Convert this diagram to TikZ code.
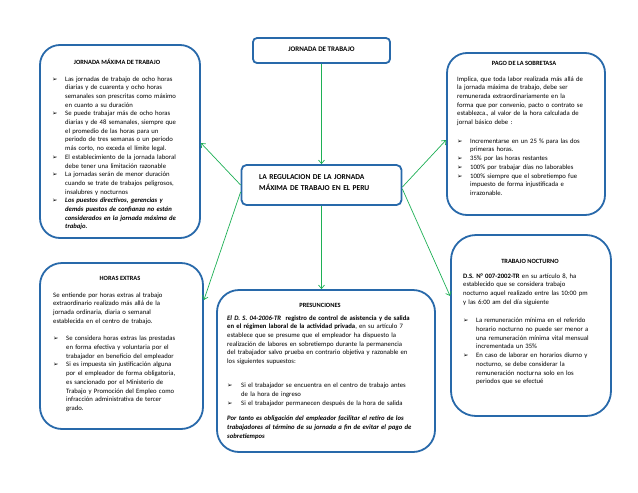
\documentclass[tikz,border=0pt]{standalone}
\usepackage{fontspec}
\setmainfont{Carlito}
\newfontfamily\bulfont{DejaVu Sans}
\usetikzlibrary{arrows.meta,calc}
\definecolor{boxblue}{RGB}{40,105,170}
\definecolor{arrgreen}{RGB}{30,176,85}
\newcommand\bitem[2][13pt]{{\hangindent=#1\hangafter=1\noindent\makebox[#1][l]{\bulfont\fontsize{6.5}{6.5}\selectfont ➢}#2\par}}
\hbadness=10000
\hfuzz=20pt
\tolerance=10000
\tikzset{
  bx/.style={draw=boxblue, line width=1.8pt, fill=white, rounded corners=#1, inner sep=0pt},
  body/.style={anchor=base west, inner sep=0pt, font=\fontsize{6.7}{8.7}\selectfont},
  ttl/.style={anchor=base, inner sep=0pt, font=\bfseries\fontsize{6.4}{7}\selectfont},
  arr/.style={draw=arrgreen, line width=0.7pt, -{Straight Barb[length=3.5pt,width=6pt]}}
}
\begin{document}
\begin{tikzpicture}[x=1pt,y=-1pt]
\fill[white] (0,0) rectangle (638,493);
\useasboundingbox (0,0) rectangle (638,493);

% top
\node[bx=4pt, minimum width=137pt, minimum height=25pt] (jt) at (321.5,50.5) {};
\node[anchor=base, inner sep=0pt, font=\bfseries\fontsize{7}{8}\selectfont] (jtt) at (321.5,51) {JORNADA DE TRABAJO};

% center
\node[bx=5pt, minimum width=160pt, minimum height=40pt] (reg) at (321.5,185) {};
\node[anchor=base west, inner sep=0pt, text width=140pt, align=left, font=\bfseries\fontsize{7.5}{11}\selectfont] (regt) at (259,179) {LA REGULACION DE LA JORNADA\\MÁXIMA DE TRABAJO EN EL PERU};

% jornada maxima
\node[bx=20pt, minimum width=160pt, minimum height=193pt] (jmax) at (120,141.5) {};
\node[ttl] (jmaxt) at (117,64) {JORNADA MÁXIMA DE TRABAJO};
\node[body, text width=131pt] (jmaxb) at (52,81) {%
\bitem{Las jornadas de trabajo de ocho horas\linebreak diarias y de cuarenta y ocho horas\linebreak semanales son prescritas como máximo\linebreak en cuanto a su duración}%
\bitem{Se puede trabajar más de ocho horas\linebreak diarias y de 48 semanales, siempre que\linebreak el promedio de las horas para un\linebreak periodo de tres semanas o un periodo\linebreak más corto, no exceda el límite legal.}%
\bitem{El establecimiento de la jornada laboral\linebreak debe tener una limitación razonable}%
\bitem{La jornadas serán de menor duración\linebreak cuando se trate de trabajos peligrosos,\linebreak insalubres y nocturnos}%
\bitem{\bfseries\itshape Los puestos directivos, gerencias y\linebreak demás puestos de confianza no están\linebreak considerados en la jornada máxima de\linebreak trabajo.}};

% pago de la sobretasa
\node[bx=20pt, minimum width=158pt, minimum height=162pt] (pago) at (526,134) {};
\node[ttl] (pagot) at (524,65) {PAGO DE LA SOBRETASA};
\node[body, text width=133pt] (pagob) at (457,81) {%
Implica, que toda labor realizada más allá de\linebreak la jornada máxima de trabajo, debe ser\linebreak remunerada extraordinariamente en la\linebreak forma que por convenio, pacto o contrato se\linebreak establezca., al valor de la hora calculada de\linebreak jornal básico debe :\par\vspace{10pt}%
\bitem{Incrementarse en un 25 \% para las dos\linebreak primeras horas.}%
\bitem{35\% por las horas restantes}%
\bitem{100\% por trabajar días no laborables}%
\bitem{100\% siempre que el sobretiempo fue\linebreak impuesto de forma injustificada e\linebreak irrazonable.}};

% horas extras
\node[bx=22pt, minimum width=163pt, minimum height=166pt] (hext) at (121.5,346) {};
\node[ttl] (hextt) at (120,280) {HORAS EXTRAS};
\node[body, text width=132pt] (hextb) at (53,297) {%
Se entiende por horas extras al trabajo\linebreak extraordinario realizado más allá de la\linebreak jornada ordinaria, diaria o semanal\linebreak establecida en el centro de trabajo.\par\vspace{9pt}%
\bitem{Se considera horas extras las prestadas\linebreak en forma efectiva y voluntaria por el\linebreak trabajador en beneficio del empleador}%
\bitem{Si es impuesta sin justificación alguna\linebreak por el empleador de forma obligatoria,\linebreak es sancionado por el Ministerio de\linebreak Trabajo y Promoción del Empleo como\linebreak infracción administrativa de tercer\linebreak grado.}};

% presunciones
\node[bx=22pt, minimum width=218pt, minimum height=162pt] (pres) at (326,371) {};
\node[ttl] (prest) at (320,307) {PRESUNCIONES};
\node[body, text width=196pt] (presb) at (227,320) {%
\textbf{\textit{El D. S. 04-2006-TR}}\ \ \textbf{registro de control de asistencia y de salida}\linebreak \textbf{en el régimen laboral de la actividad privada}, en su artículo 7\linebreak establece que se presume que el empleador ha dispuesto la\linebreak realización de labores en sobretiempo durante la permanencia\linebreak del trabajador salvo prueba en contrario objetiva y razonable en\linebreak los siguientes supuestos:\par\vspace{15.5pt}%
\bitem[14pt]{Si el trabajador se encuentra en el centro de trabajo antes\linebreak de la hora de ingreso}%
\bitem[14pt]{Si el trabajador permanecen después de la hora de salida}\vspace{7pt}%
{\bfseries\itshape Por tanto es obligación del empleador facilitar el retiro de los\linebreak trabajadores al término de su jornada a fin de evitar el pago de\linebreak sobretiempos\par}};

% trabajo nocturno
\node[bx=25pt, minimum width=160pt, minimum height=181pt] (noct) at (531,325.5) {};
\node[ttl] (noctt) at (530,263) {TRABAJO NOCTURNO};
\node[body, text width=132pt] (noctb) at (463,278) {%
\textbf{D.S. N° 007-2002-TR} en su artículo 8, ha\linebreak establecido que se considera trabajo\linebreak nocturno aquel realizado entre las 10:00 pm\linebreak y las 6:00 am del día siguiente\par\vspace{10pt}%
\bitem{La remuneración mínima en el referido\linebreak horario nocturno no puede ser menor a\linebreak una remuneración mínima vital mensual\linebreak incrementada un 35\%}%
\bitem{En caso de laborar en horarios diurno y\linebreak nocturno, se debe considerar la\linebreak remuneración nocturna solo en los\linebreak periodos que se efectué}};

% connectors
\draw[arr] (jt.south) -- (reg.north);
\draw[arr] (reg.west) -- ($(jmax.east)+(0,1.5)$);
\draw[arr] ($(reg.west)+(0,7)$) -- ($(hext.east)+(0,-46)$);
\draw[arr] ($(reg.east)+(0,2)$) -- ($(pago.west)+(0,6)$);
\draw[arr] ($(reg.east)+(0,4)$) -- ($(noct.west)+(0,-29.5)$);
\draw[arr] (reg.south) -- (reg.south |- pres.north);
\end{tikzpicture}
\end{document}
